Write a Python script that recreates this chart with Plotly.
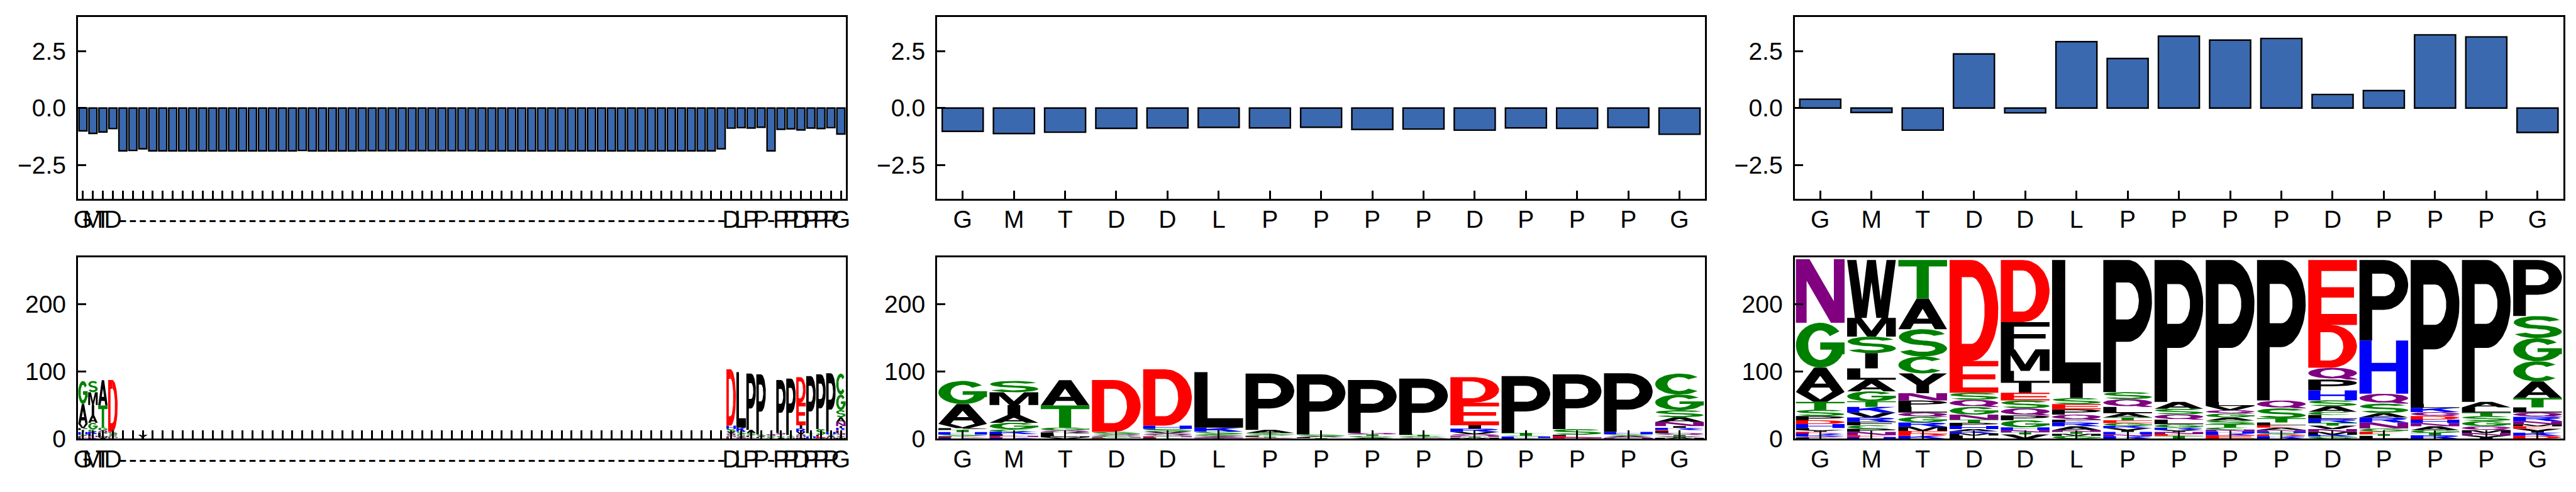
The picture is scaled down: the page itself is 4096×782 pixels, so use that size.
import numpy as np
import plotly.graph_objects as go

W, H = 4096, 782
FONT = "Liberation Sans, Arial, sans-serif"
FS = 39

# ---------------- data ----------------
seq_labels = ["G", "M", "T", "D", "D", "L", "P", "P", "P", "P", "D", "P", "P", "P", "G"]
aln_labels = (["G", "M", "T", "D"] + ["-"] * 61 +
              ["D", "L", "P", "P", "-", "P", "P", "D", "P", "P", "P", "G"])
aln_residue_cols = [0, 1, 2, 3, 65, 66, 67, 68, 70, 71, 72, 73, 74, 75, 76]

aln_scores = [-1.00, -1.11, -1.05, -0.90, -1.88, -1.86, -1.79, -1.88, -1.88, -1.88,
              -1.88, -1.88, -1.88, -1.88, -1.88, -1.88, -1.88, -1.88, -1.88, -1.88,
              -1.88, -1.88, -1.86, -1.88, -1.88, -1.88, -1.88, -1.88, -1.87, -1.87,
              -1.87, -1.87, -1.87, -1.87, -1.87, -1.87, -1.87, -1.87, -1.87, -1.87,
              -1.88, -1.88, -1.88, -1.88, -1.88, -1.88, -1.88, -1.88, -1.88, -1.88,
              -1.88, -1.88, -1.88, -1.88, -1.88, -1.88, -1.88, -1.88, -1.88, -1.88,
              -1.88, -1.88, -1.88, -1.88, -1.79, -0.88, -0.86, -0.875, -0.84, -1.88,
              -0.93, -0.91, -0.96, -0.875, -0.895, -0.86, -1.14]
seq_scores = [-1.02, -1.12, -1.06, -0.89, -0.87, -0.85, -0.87, -0.84, -0.94, -0.92,
              -0.97, -0.87, -0.89, -0.85, -1.15]
pos_scores = [0.39, -0.19, -0.97, 2.38, -0.21, 2.92, 2.18, 3.16, 2.99, 3.06,
              0.60, 0.77, 3.22, 3.13, -1.07]

# logo stacks, listed top -> bottom as (letter, height)
seq_logo = [
    [("G", 34.5), ("A", 29.5), ("V", 6.3), ("P", 2.5), ("T", 3.2), ("H", 3.8), ("S", 2.5), ("L", 1.5), ("D", 1.0), ("R", 1.2)],
    [("S", 16.9), ("M", 19.0), ("I", 14.7), ("A", 11.6), ("G", 9.9), ("C", 3.4), ("K", 3.6), ("L", 2.7), ("N", 1.8), ("E", 1.0), ("R", 1.4)],
    [("A", 37.5), ("T", 32.7), ("G", 4.6), ("Q", 2.7), ("P", 3.2), ("L", 2.6), ("M", 1.4), ("V", 2.3)],
    [("D", 77.3), ("S", 3.8), ("Q", 1.6), ("G", 2.2), ("N", 1.2), ("E", 0.8), ("T", 0.5)],
    [("D", 83.8), ("H", 4.7), ("S", 4.2), ("V", 2.5), ("Q", 2.7), ("G", 1.8), ("N", 1.3), ("E", 1.2), ("P", 1.0)],
    [("L", 82.6), ("K", 5.9), ("S", 3.8), ("G", 2.1), ("Q", 1.5), ("A", 1.3), ("N", 1.0), ("T", 0.8)],
    [("P", 83.7), ("A", 4.8), ("S", 2.6), ("G", 1.6), ("L", 1.3), ("T", 1.2), ("Q", 0.9), ("E", 0.8)],
    [("P", 89.5), ("S", 2.5), ("A", 1.5), ("L", 1.2), ("T", 1.1)],
    [("P", 78.6), ("Q", 2.5), ("T", 2.1), ("G", 1.5), ("S", 1.3), ("A", 1.4)],
    [("P", 82.2), ("L", 1.4), ("T", 2.1), ("G", 1.5), ("S", 1.2), ("Q", 1.1)],
    [("D", 37.9), ("E", 33.7), ("I", 4.9), ("R", 5.0), ("V", 3.4), ("Q", 2.5), ("N", 1.5), ("T", 1.2), ("M", 1.5)],
    [("P", 84.7), ("T", 3.8), ("S", 1.3), ("H", 2.2), ("R", 1.1)],
    [("P", 81.5), ("S", 8.4), ("L", 1.7), ("E", 2.1), ("N", 1.0), ("D", 1.1)],
    [("P", 87.2), ("H", 3.4), ("S", 2.3), ("A", 2.0), ("Q", 1.2), ("N", 1.2)],
    [("C", 31.2), ("G", 23.2), ("S", 10.5), ("A", 7.2), ("N", 5.9), ("I", 2.7), ("R", 3.2), ("E", 1.7), ("L", 2.9), ("Q", 2.6), ("T", 2.2), ("Y", 2.0), ("M", 1.6)],
]
aln_gap_logo = {6: [("Y", 6.0)], 69: [("Q", 2.5), ("S", 2.0), ("G", 1.5), ("T", 1.0)]}

full_logo = [
    [("N", 94.5), ("G", 66.6), ("A", 36.3), ("V", 14.8), ("T", 11.5), ("S", 9.5), ("P", 6.3), ("D", 5.6), ("H", 5.9), ("L", 3.0), ("Y", 2.5), ("E", 2.5), ("R", 2.5), ("K", 2.0), ("Q", 1.5), ("F", 1.9)],
    [("W", 86.1), ("M", 27.9), ("S", 24.6), ("I", 22.5), ("L", 17.0), ("A", 17.2), ("G", 14.8), ("T", 8.4), ("K", 8.4), ("V", 7.3), ("R", 6.3), ("F", 5.3), ("C", 5.2), ("P", 4.7), ("N", 4.8), ("E", 2.6), ("H", 2.7)],
    [("T", 57.3), ("A", 45.6), ("S", 40.6), ("C", 25.2), ("Y", 29.4), ("N", 10.9), ("P", 9.5), ("L", 8.4), ("Q", 6.3), ("G", 8.4), ("R", 6.3), ("M", 6.3), ("E", 4.2), ("D", 3.1), ("K", 4.3)],
    [("D", 150.2), ("E", 47.2), ("S", 10.5), ("Q", 10.6), ("G", 11.5), ("N", 7.4), ("T", 4.8), ("P", 4.6), ("H", 4.6), ("A", 3.4), ("K", 3.0), ("M", 3.3), ("L", 4.7)],
    [("D", 92.4), ("F", 40.5), ("M", 32.0), ("L", 17.8), ("I", 14.7), ("E", 11.6), ("S", 11.6), ("Q", 10.5), ("P", 7.3), ("G", 10.5), ("H", 4.2), ("N", 3.2), ("T", 3.1), ("V", 6.4)],
    [("L", 183.4), ("I", 21.8), ("S", 9.1), ("E", 7.7), ("P", 8.0), ("Q", 7.4), ("F", 4.2), ("R", 5.6), ("A", 5.9), ("N", 2.5), ("T", 2.8), ("M", 3.1), ("G", 4.3)],
    [("P", 196.4), ("S", 10.5), ("Q", 11.6), ("L", 9.4), ("A", 6.3), ("T", 4.2), ("E", 4.2), ("G", 4.2), ("K", 3.2), ("Y", 5.7), ("H", 3.7), ("N", 2.6), ("R", 3.8)],
    [("P", 211.1), ("A", 10.1), ("S", 8.4), ("Q", 7.8), ("L", 6.9), ("G", 5.0), ("R", 3.4), ("Y", 3.0), ("N", 3.3), ("E", 2.5), ("T", 4.3)],
    [("P", 211.1), ("L", 5.9), ("V", 6.3), ("Q", 5.0), ("G", 5.9), ("A", 4.6), ("S", 5.5), ("T", 4.6), ("C", 3.2), ("N", 2.7), ("H", 3.0), ("R", 2.7), ("E", 5.3)],
    [("P", 209.0), ("Q", 11.6), ("S", 14.7), ("T", 6.3), ("L", 4.2), ("E", 3.5), ("A", 3.4), ("N", 2.1), ("H", 2.5), ("G", 2.1), ("D", 2.6), ("R", 3.8)],
    [("E", 96.6), ("D", 63.7), ("Q", 17.6), ("P", 16.0), ("H", 14.7), ("S", 8.8), ("A", 8.4), ("C", 4.6), ("L", 5.9), ("R", 5.9), ("T", 4.2), ("V", 5.0), ("N", 4.2), ("M", 4.2), ("K", 2.7), ("G", 3.3)],
    [("P", 119.7), ("H", 79.2), ("Q", 14.7), ("S", 13.9), ("A", 6.7), ("R", 7.4), ("N", 9.0), ("G", 4.6), ("E", 3.8), ("T", 2.5), ("L", 4.3)],
    [("P", 214.3), ("L", 5.6), ("K", 6.3), ("Q", 5.9), ("D", 5.3), ("H", 5.2), ("N", 4.6), ("A", 5.9), ("G", 4.2), ("T", 3.2), ("R", 5.3)],
    [("P", 211.1), ("A", 8.0), ("L", 7.8), ("T", 5.2), ("S", 7.4), ("G", 7.7), ("Q", 5.9), ("M", 4.2), ("N", 3.8), ("Y", 4.7)],
    [("P", 83.4), ("S", 32.7), ("G", 34.5), ("C", 30.0), ("A", 24.6), ("T", 13.9), ("L", 7.8), ("Q", 6.3), ("R", 6.3), ("N", 4.8), ("M", 2.9), ("E", 3.8), ("Y", 5.9), ("K", 4.6), ("D", 4.3)],
]

letter_colors = {}
for ch in "GSTC":
    letter_colors[ch] = "rgb(0,128,0)"
for ch in "NQ":
    letter_colors[ch] = "rgb(128,0,128)"
for ch in "KRH":
    letter_colors[ch] = "rgb(0,0,255)"
for ch in "DE":
    letter_colors[ch] = "rgb(255,0,0)"
for ch in "AVLIPWFMY":
    letter_colors[ch] = "rgb(0,0,0)"

BAR_COLOR = "#3a69b0"

# ---------------- glyph outlines (unit box) ----------------
SX, SY = 0.25, 0.17


def _rect(x0, y0, x1, y1):
    return [(x0, y0), (x1, y0), (x1, y1), (x0, y1)]


def _arc(cx, cy, rx, ry, tx, ty, a0, a1, n=30):
    t = np.radians(np.linspace(a0, a1, n))
    outer = [(cx + rx * np.cos(a), cy + ry * np.sin(a)) for a in t]
    inner = [(cx + (rx - tx) * np.cos(a), cy + (ry - ty) * np.sin(a)) for a in t[::-1]]
    return outer + inner


def glyph(ch):
    if ch == "A":
        return [[(0, 0), (0.25, 0), (0.625, 1), (0.375, 1)],
                [(0.75, 0), (1, 0), (0.625, 1), (0.375, 1)],
                _rect(0.22, 0.18, 0.78, 0.34)]
    if ch == "C":
        return [_arc(0.5, 0.5, 0.5, 0.5, SX, SY, 42, 318)]
    if ch == "D":
        return [_rect(0, 0, SX, 1), _rect(0, 1 - SY, 0.45, 1), _rect(0, 0, 0.45, SY),
                _arc(0.45, 0.5, 0.55, 0.5, 0.28, SY, -90, 90)]
    if ch == "E":
        return [_rect(0, 0, 0.27, 1), _rect(0, 1 - SY, 1, 1), _rect(0, 0.42, 0.94, 0.58), _rect(0, 0, 1, SY)]
    if ch == "F":
        return [_rect(0, 0, 0.27, 1), _rect(0, 1 - SY, 1, 1), _rect(0, 0.40, 0.92, 0.56)]
    if ch == "G":
        return [_arc(0.5, 0.5, 0.5, 0.5, SX, SY, 38, 360), _rect(0.75, 0.3, 1, 0.56),
                _rect(0.5, 0.40, 1, 0.56)]
    if ch == "H":
        return [_rect(0, 0, SX, 1), _rect(1 - SX, 0, 1, 1), _rect(0, 0.42, 1, 0.58)]
    if ch == "I":
        return [_rect(0.37, 0, 0.63, 1)]
    if ch == "K":
        return [_rect(0, 0, SX, 1), [(0.2, 0.3), (1.0, 1.0), (0.66, 1.0), (0.2, 0.64)],
                [(0.38, 0.55), (0.70, 0.0), (1.0, 0.0), (0.6, 0.72)]]
    if ch == "L":
        return [_rect(0, 0, 0.27, 1), _rect(0, 0, 1, SY)]
    if ch == "M":
        return [[(0, 0), (0.2, 0), (0.2, 0.72), (0.41, 0), (0.59, 0), (0.8, 0.72), (0.8, 0), (1, 0),
                 (1, 1), (0.71, 1), (0.5, 0.3), (0.29, 1), (0, 1)]]
    if ch == "N":
        return [[(0, 0), (0.22, 0), (0.22, 0.66), (0.72, 0), (1, 0), (1, 1), (0.78, 1), (0.78, 0.34),
                 (0.28, 1), (0, 1)]]
    if ch == "P":
        return [_rect(0, 0, 0.26, 1), _rect(0, 1 - SY, 0.5, 1), _rect(0, 0.38, 0.5, 0.38 + SY),
                _arc(0.5, 0.69, 0.5, 0.31, 0.27, SY, -90, 90)]
    if ch == "Q":
        return [_arc(0.5, 0.55, 0.5, 0.45, SX, 0.15, 0, 360, 60),
                [(0.52, 0.26), (0.72, 0.36), (1.0, 0.06), (1.0, 0.0), (0.8, 0.0)]]
    if ch == "R":
        return [_rect(0, 0, 0.26, 1), _rect(0, 1 - SY, 0.5, 1), _rect(0, 0.44, 0.5, 0.44 + SY),
                _arc(0.5, 0.72, 0.48, 0.28, 0.26, SY, -90, 90),
                [(0.42, 0.50), (0.72, 0.50), (1.0, 0.0), (0.70, 0.0)]]
    if ch == "S":
        return [_arc(0.5, 0.71, 0.49, 0.29, 0.24, SY, 22, 270),
                _arc(0.5, 0.29, 0.5, 0.29, 0.24, SY, 90, -158)]
    if ch == "T":
        return [_rect(0, 1 - SY, 1, 1), _rect(0.375, 0, 0.625, 1)]
    if ch == "V":
        return [[(0, 1), (0.26, 1), (0.5, 0.25), (0.74, 1), (1, 1), (0.64, 0), (0.36, 0)]]
    if ch == "W":
        return [[(0, 1), (0.19, 1), (0.31, 0.3), (0.41, 1), (0.59, 1), (0.69, 0.3), (0.81, 1), (1, 1),
                 (0.84, 0), (0.6, 0), (0.5, 0.62), (0.4, 0), (0.16, 0)]]
    if ch == "Y":
        return [[(0, 1), (0.28, 1), (0.5, 0.62), (0.72, 1), (1, 1), (0.63, 0.42), (0.63, 0),
                 (0.37, 0), (0.37, 0.42)]]
    return [_rect(0, 0, 1, 1)]


def _orient(p):
    a = 0.0
    n = len(p)
    for i in range(n):
        x1, y1 = p[i]
        x2, y2 = p[(i + 1) % n]
        a += x1 * y2 - x2 * y1
    return p if a > 0 else p[::-1]


GLYPHS = {ch: [_orient(p) for p in glyph(ch)] for ch in letter_colors}
LW = 0.95


def logo_traces(stacks, xa, ya):
    """stacks: dict col -> list of (letter, height) top->bottom"""
    bycolor = {}
    for col, stack in stacks.items():
        y = 0.0
        for ch, h in reversed(stack):
            y0, y1 = y, y + h
            y = y1
            c = letter_colors[ch]
            xs, ys = bycolor.setdefault(c, ([], []))
            for poly in GLYPHS[ch]:
                for u, v in poly:
                    xs.append(col + (u - 0.5) * LW)
                    ys.append(y0 + v * (y1 - y0))
                xs.append(None)
                ys.append(None)
    traces = []
    for c, (xs, ys) in bycolor.items():
        traces.append(go.Scatter(x=xs, y=ys, mode="lines", fill="toself", fillcolor=c,
                                 line=dict(width=0, color=c), hoverinfo="skip",
                                 showlegend=False, xaxis=xa, yaxis=ya))
    return traces


# ---------------- figure ----------------
fig = go.Figure()

bar_kw = dict(width=0.8, marker=dict(color=BAR_COLOR, line=dict(color="black", width=2.4)),
              hoverinfo="skip", showlegend=False)
fig.add_trace(go.Bar(x=list(range(len(aln_scores))), y=aln_scores, xaxis="x", yaxis="y", **bar_kw))
fig.add_trace(go.Bar(x=list(range(len(seq_scores))), y=seq_scores, xaxis="x2", yaxis="y2", **bar_kw))
fig.add_trace(go.Bar(x=list(range(len(pos_scores))), y=pos_scores, xaxis="x3", yaxis="y3", **bar_kw))

aln_stacks = {c: seq_logo[i] for i, c in enumerate(aln_residue_cols)}
aln_stacks.update(aln_gap_logo)
for t in logo_traces(aln_stacks, "x4", "y4"):
    fig.add_trace(t)
for t in logo_traces({i: s for i, s in enumerate(seq_logo)}, "x5", "y5"):
    fig.add_trace(t)
for t in logo_traces({i: s for i, s in enumerate(full_logo)}, "x6", "y6"):
    fig.add_trace(t)

ax_common = dict(showline=True, linecolor="black", linewidth=3.3, mirror=True, ticks="inside",
                 ticklen=13, tickwidth=2.5, tickcolor="black", showgrid=False, zeroline=False,
                 tickfont=dict(family=FONT, size=FS, color="black"), fixedrange=True)

xdom = [[109.4 / W, 1334.5 / W], [1480.1 / W, 2705.5 / W], [2848.3 / W, 4074.5 / W]]
ydom_top = [1 - 317.4 / H, 1 - 19.7 / H]
ydom_bot = [1 - 709.3 / H, 1 - 412.3 / H]

layout = dict(width=W, height=H, margin=dict(l=0, r=0, t=0, b=0, pad=0),
              paper_bgcolor="white", plot_bgcolor="white", showlegend=False,
              font=dict(family=FONT, size=FS, color="black"), bargap=0.2)

for k in range(6):
    row_top = k < 3
    labels = aln_labels if k % 3 == 0 else seq_labels
    n = len(labels)
    xname = "xaxis" if k == 0 else "xaxis%d" % (k + 1)
    yname = "yaxis" if k == 0 else "yaxis%d" % (k + 1)
    xa = "x" if k == 0 else "x%d" % (k + 1)
    ya = "y" if k == 0 else "y%d" % (k + 1)
    layout[xname] = dict(ax_common, domain=xdom[k % 3], anchor=ya, range=[-0.5, n - 0.5],
                         tickmode="array", tickvals=list(range(n)), ticktext=labels, tickangle=0,
                         ticklabelstandoff=-4)
    if row_top:
        layout[yname] = dict(ax_common, domain=ydom_top, anchor=xa, range=[-4, 4],
                             tickmode="array", tickvals=[-2.5, 0, 2.5],
                             ticktext=["\u22122.5", "0.0", "2.5"], ticklabelstandoff=8)
    else:
        layout[yname] = dict(ax_common, domain=ydom_bot, anchor=xa, range=[0, 270],
                             tickmode="array", tickvals=[0, 100, 200],
                             ticktext=["0", "100", "200"], ticklabelstandoff=8)

fig.update_layout(**layout)
fig.write_html("out.html")
